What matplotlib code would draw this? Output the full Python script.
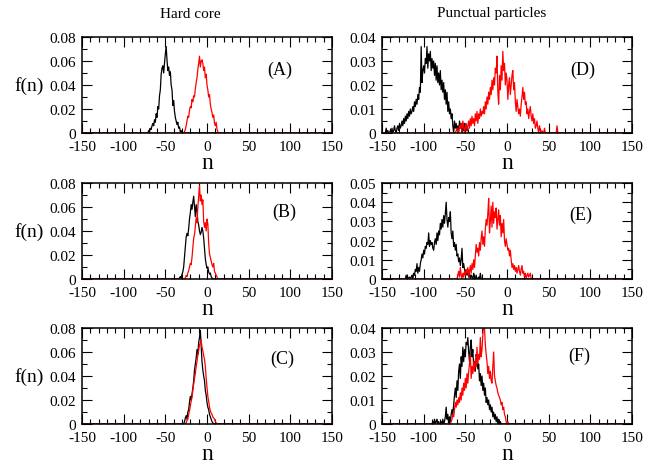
import numpy as np
import matplotlib
matplotlib.use("Agg")
import matplotlib.pyplot as plt
from matplotlib.ticker import MultipleLocator, FuncFormatter

plt.rcParams['font.family'] = ['Liberation Serif', 'DejaVu Serif']
plt.rcParams['axes.unicode_minus'] = False

# ---------------- data (f(n) at integer n, zero elsewhere) ----------------
A_black_start = -72
A_black = [0, 0, 0.002, 0.001, 0.004, 0.003, 0.006, 0.008, 0.006, 0.011, 0.009, 0.016, 0.013,
           0.022, 0.020, 0.031, 0.036, 0.049, 0.054, 0.056, 0.050, 0.058, 0.066, 0.072, 0.061,
           0.052, 0.055, 0.048, 0.051, 0.040, 0.036, 0.023, 0.027, 0.018, 0.013, 0.010, 0.007,
           0.009, 0.004, 0.005, 0.001, 0.002, 0]
A_red_start = -28
A_red = [0, 0.001, 0.003, 0.006, 0.010, 0.014, 0.013, 0.019, 0.022, 0.021, 0.028, 0.026, 0.031,
         0.030, 0.037, 0.042, 0.046, 0.053, 0.058, 0.064, 0.055, 0.060, 0.061, 0.058, 0.052,
         0.055, 0.046, 0.049, 0.040, 0.036, 0.030, 0.032, 0.024, 0.020, 0.017, 0.013, 0.015,
         0.008, 0.006, 0.009, 0.003, 0.001, 0]

B_black_start = -34
B_black = [0, 0.001, 0.002, 0.001, 0.004, 0.006, 0.010, 0.018, 0.026, 0.035, 0.038, 0.036, 0.042,
           0.050, 0.055, 0.062, 0.058, 0.064, 0.069, 0.060, 0.052, 0.062, 0.057, 0.048, 0.045,
           0.040, 0.037, 0.039, 0.043, 0.040, 0.034, 0.025, 0.017, 0.012, 0.009, 0.010, 0.006,
           0.004, 0.005, 0.002, 0.001, 0, 0]
B_red_start = -27
B_red = [0, 0.001, 0.003, 0.002, 0.005, 0.007, 0.010, 0.013, 0.012, 0.018, 0.026, 0.034, 0.037,
         0.044, 0.051, 0.047, 0.060, 0.069, 0.078, 0.065, 0.070, 0.062, 0.066, 0.048, 0.043,
         0.047, 0.040, 0.050, 0.046, 0.030, 0.021, 0.018, 0.015, 0.012, 0.010, 0.013, 0.006,
         0.005, 0.003, 0.002, 0]

C_black_start = -28
C_black = [0, 0.002, 0.005, 0.007, 0.004, 0.010, 0.012, 0.018, 0.023, 0.020, 0.025, 0.030, 0.036,
           0.045, 0.050, 0.055, 0.062, 0.058, 0.068, 0.072, 0.078, 0.065, 0.052, 0.045, 0.040,
           0.036, 0.028, 0.024, 0.018, 0.014, 0.012, 0.008, 0.006, 0.004, 0.002, 0.001, 0]
C_red_start = -26
C_red = [0, 0.001, 0.003, 0.004, 0.008, 0.011, 0.015, 0.019, 0.022, 0.028, 0.033, 0.038, 0.042,
         0.048, 0.052, 0.058, 0.061, 0.066, 0.068, 0.070, 0.064, 0.061, 0.057, 0.054, 0.048,
         0.038, 0.030, 0.023, 0.019, 0.014, 0.011, 0.009, 0.008, 0.006, 0.005, 0.004, 0.002,
         0.001, 0]

D_black_start = -146
D_black = [0, 0.002, 0, 0.001, 0, 0, 0.001, 0, 0.002, 0, 0.001, 0.003, 0.001, 0, 0.002, 0.003,
           0.001, 0.004, 0.002, 0.003, 0.005, 0.003, 0.006, 0.004, 0.007, 0.005, 0.008, 0.006,
           0.009, 0.007, 0.010, 0.008, 0.009, 0.011, 0.009, 0.013, 0.011, 0.014, 0.012, 0.016,
           0.014, 0.019, 0.017, 0.036, 0.021, 0.026, 0.028, 0.025, 0.031, 0.029, 0.036, 0.027,
           0.033, 0.030, 0.034, 0.026, 0.031, 0.027, 0.030, 0.024, 0.029, 0.022, 0.028, 0.021,
           0.025, 0.020, 0.026, 0.018, 0.022, 0.017, 0.021, 0.014, 0.018, 0.012, 0.017, 0.009,
           0.013, 0.008, 0.010, 0.006, 0.008, 0.003, 0.000, 0.005, 0.002, 0.004, 0.001, 0.003,
           0.000, 0.005, 0.002, 0.004, 0.000, 0.003, 0.001, 0.004, 0.000, 0.003, 0.001, 0.002, 0]
D_red_start = -62
D_red = [0, 0.001, 0.002, 0, 0.001, 0.003, 0.002, 0.004, 0.001, 0.005, 0.003, 0.000, 0.002,
         0.004, 0.001, 0.003, 0.005, 0.002, 0.006, 0.003, 0.007, 0.004, 0.006, 0.003, 0.008,
         0.005, 0.009, 0.004, 0.008, 0.006, 0.010, 0.007, 0.009, 0.008, 0.011, 0.008, 0.013,
         0.010, 0.015, 0.012, 0.017, 0.014, 0.019, 0.016, 0.022, 0.018, 0.023, 0.020, 0.027,
         0.025, 0.032, 0.017, 0.012, 0.024, 0.018, 0.028, 0.022, 0.034, 0.026, 0.029, 0.020,
         0.025, 0.022, 0.014, 0.020, 0.023, 0.016, 0.020, 0.024, 0.026, 0.018, 0.021, 0.013,
         0.009, 0.014, 0.011, 0.008, 0.010, 0.007, 0.012, 0.015, 0.019, 0.014, 0.017, 0.012,
         0.013, 0.008, 0.010, 0.006, 0.009, 0.011, 0.007, 0.005, 0.008, 0.004, 0.006, 0.002,
         0.003, 0.005, 0.002, 0, 0.003, 0.001, 0, 0.001, 0, 0, 0.002, 0, 0, 0, 0, 0, 0, 0, 0,
         0, 0, 0, 0, 0, 0, 0.003, 0, 0]

E_black_start = -122
E_black = [0, 0.002, 0, 0.001, 0, 0.001, 0, 0.001, 0.002, 0.000, 0.003, 0.002, 0.005, 0.004,
           0.008, 0.003, 0.006, 0.004, 0.008, 0.010, 0.013, 0.011, 0.015, 0.013, 0.017, 0.016,
           0.019, 0.018, 0.024, 0.017, 0.020, 0.018, 0.019, 0.016, 0.015, 0.019, 0.021, 0.018,
           0.024, 0.020, 0.025, 0.023, 0.029, 0.026, 0.031, 0.027, 0.033, 0.029, 0.034, 0.040,
           0.031, 0.027, 0.032, 0.030, 0.035, 0.024, 0.021, 0.025, 0.017, 0.019, 0.015, 0.018,
           0.012, 0.013, 0.009, 0.011, 0.007, 0.010, 0.016, 0.006, 0.008, 0.005, 0.003, 0.004,
           0.002, 0.005, 0.001, 0.003, 0.000, 0.002, 0.001, 0.000, 0.003, 0.001, 0.000, 0.002,
           0, 0, 0.001, 0, 0.003, 0, 0]
E_red_start = -60
E_red = [0, 0.002, 0.004, 0.001, 0.006, 0.002, 0.000, 0.003, 0.001, 0.004, 0.002, 0.005, 0.003,
         0.006, 0.001, 0.004, 0.007, 0.003, 0.008, 0.005, 0.010, 0.006, 0.012, 0.018, 0.014,
         0.016, 0.012, 0.019, 0.015, 0.021, 0.025, 0.018, 0.022, 0.017, 0.026, 0.031, 0.028,
         0.034, 0.042, 0.024, 0.030, 0.038, 0.027, 0.040, 0.029, 0.035, 0.032, 0.037, 0.026,
         0.031, 0.036, 0.028, 0.033, 0.022, 0.029, 0.024, 0.031, 0.020, 0.017, 0.021, 0.018,
         0.015, 0.016, 0.012, 0.015, 0.010, 0.006, 0.008, 0.005, 0.007, 0.004, 0.006, 0.003,
         0.005, 0.007, 0.004, 0.002, 0.005, 0.007, 0.003, 0.004, 0.001, 0.003, 0.000, 0.002,
         0.003, 0.001, 0.002, 0.003, 0.000, 0]

F_black_start = -90
F_black = [0, 0.001, 0, 0.002, 0, 0.001, 0.002, 0, 0.001, 0, 0, 0.001, 0, 0.002, 0, 0.001, 0.003,
           0.007, 0.002, 0.004, 0.000, 0.003, 0.001, 0.004, 0.006, 0.004, 0.008, 0.012, 0.015,
           0.011, 0.018, 0.014, 0.022, 0.025, 0.019, 0.028, 0.024, 0.032, 0.026, 0.031, 0.028,
           0.034, 0.033, 0.036, 0.030, 0.026, 0.032, 0.035, 0.028, 0.031, 0.024, 0.026, 0.022,
           0.029, 0.027, 0.023, 0.025, 0.018, 0.021, 0.016, 0.020, 0.014, 0.017, 0.012, 0.015,
           0.009, 0.011, 0.008, 0.010, 0.006, 0.008, 0.005, 0.007, 0.003, 0.005, 0.002, 0.004,
           0.001, 0.003, 0.000, 0.002, 0.000, 0.001, 0, 0]
F_red_start = -68
F_red = [0, 0.001, 0.002, 0.004, 0.003, 0.006, 0.009, 0.007, 0.010, 0.008, 0.011, 0.009, 0.013,
         0.010, 0.015, 0.012, 0.017, 0.014, 0.019, 0.015, 0.021, 0.017, 0.022, 0.025, 0.029,
         0.019, 0.024, 0.021, 0.026, 0.022, 0.027, 0.024, 0.032, 0.025, 0.029, 0.027, 0.036,
         0.028, 0.031, 0.037, 0.042, 0.040, 0.033, 0.029, 0.026, 0.021, 0.024, 0.019, 0.022,
         0.018, 0.017, 0.024, 0.030, 0.020, 0.018, 0.016, 0.015, 0.013, 0.012, 0.011, 0.010,
         0.008, 0.009, 0.006, 0.007, 0.004, 0.003, 0.001, 0.000, 0.001, 0]

panel_labels = ["(A)", "(B)", "(C)", "(D)", "(E)", "(F)"]
col_titles = ["Hard core", "Punctual particles"]
x_ticks = [-150, -100, -50, 0, 50, 100, 150]
y_max = [0.08, 0.08, 0.08, 0.04, 0.05, 0.04]

n_full = np.arange(-150, 151)

def on_grid(start, vals):
    y = np.zeros(n_full.size)
    i0 = start + 150
    y[i0:i0 + len(vals)] = vals
    return y

series = [
    (A_black_start, A_black, A_red_start, A_red),
    (B_black_start, B_black, B_red_start, B_red),
    (C_black_start, C_black, C_red_start, C_red),
    (D_black_start, D_black, D_red_start, D_red),
    (E_black_start, E_black, E_red_start, E_red),
    (F_black_start, F_black, F_red_start, F_red),
]

# ---------------- layout ----------------
W, H = 663, 464
fig = plt.figure(figsize=(W / 100, H / 100), dpi=100)
lefts = [82, 382]
tops = [38, 184, 329]
ax_w, ax_h = 250, 96
label_pos = [(0.79, 0.667), (0.81, 0.70), (0.80, 0.68),
             (0.804, 0.667), (0.795, 0.677), (0.79, 0.71)]

def yfmt(v, pos):
    if abs(v) < 1e-12:
        return "0"
    return "%g" % v

for k in range(6):
    col, row = divmod(k, 3)
    l, t = lefts[col], tops[row]
    ax = fig.add_axes([l / W, (H - t - ax_h) / H, ax_w / W, ax_h / H])
    bs, bv, rs, rv = series[k]
    ax.plot(n_full, on_grid(bs, bv), color='black', lw=0.9)
    ax.plot(n_full, on_grid(rs, rv), color='#ff0000', lw=0.9)
    ax.set_xlim(-150, 150)
    ax.set_ylim(0, y_max[k])
    ax.set_xticks(x_ticks)
    ax.xaxis.set_minor_locator(MultipleLocator(10))
    if col == 0:
        ax.yaxis.set_major_locator(MultipleLocator(0.02))
        ax.yaxis.set_minor_locator(MultipleLocator(0.01))
    else:
        ax.yaxis.set_major_locator(MultipleLocator(0.01))
        ax.yaxis.set_minor_locator(MultipleLocator(0.005))
    ax.yaxis.set_major_formatter(FuncFormatter(yfmt))
    ax.tick_params(which='both', direction='in', top=True, right=True,
                   labelsize=11, width=0.8)
    ax.tick_params(axis='x', which='major', pad=5)
    ax.tick_params(axis='y', which='major', pad=4)
    ax.tick_params(which='major', length=7)
    ax.tick_params(which='minor', length=3.5)
    for s in ax.spines.values():
        s.set_linewidth(1.1)
    ax.set_xlabel("n", fontsize=17, labelpad=-1)
    ax.text(label_pos[k][0], label_pos[k][1], panel_labels[k], transform=ax.transAxes,
            fontsize=13, ha='center', va='center')
    if col == 0:
        fig.text(29 / W, 1 - (t + ax_h / 2) / H, "f(n)", fontsize=14,
                 ha='center', va='center')

fig.text(190 / W, 1 - 14 / H, col_titles[0], fontsize=11, ha='center', va='center')
fig.text(492 / W, 1 - 14 / H, col_titles[1], fontsize=11, ha='center', va='center')

fig.savefig("out.png", dpi=100, facecolor='white')
